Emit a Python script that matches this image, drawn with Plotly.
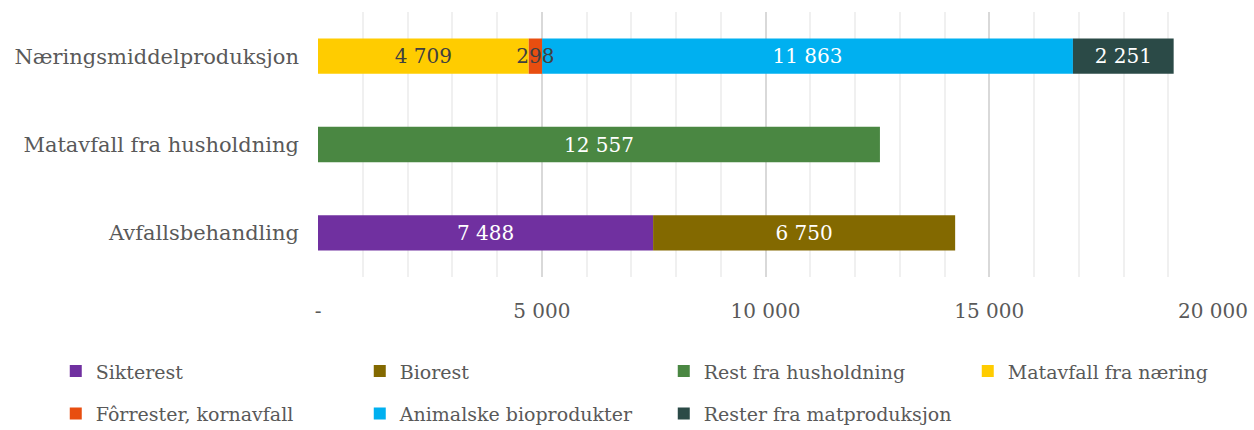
import plotly.graph_objects as go

categories = ["Avfallsbehandling", "Matavfall fra husholdning", "Næringsmiddelproduksjon"]

series_names = ["Sikterest", "Biorest", "Rest fra husholdning", "Matavfall fra næring",
                "Fôrrester, kornavfall", "Animalske bioprodukter", "Rester fra matproduksjon"]
series_values = [
    [7488, None, None],
    [6750, None, None],
    [None, 12557, None],
    [None, None, 4709],
    [None, None, 298],
    [None, None, 11863],
    [None, None, 2251],
]
series_colors = ["#7030A0", "#836900", "#4A8742", "#FFCC00", "#E84E10", "#00B0F0", "#2B4A47"]
label_colors = ["white", "white", "white", "#404040", "#404040", "white", "white"]

tick_vals = [0, 5000, 10000, 15000, 20000]
tick_text = ["-", "5 000", "10 000", "15 000", "20 000"]

FONT = "DejaVu Serif"

# stack bases computed from the data (so the narrow bar's label can be drawn on top)
bases = []
running = [0, 0, 0]
for vals in series_values:
    bases.append(list(running))
    running = [r + (v or 0) for r, v in zip(running, vals)]

# draw order: the narrow "Fôrrester" bar last so its label sits on top
draw_order = [0, 1, 2, 3, 5, 6, 4]

fig = go.Figure()
for i in draw_order:
    name, vals, col, lc = series_names[i], series_values[i], series_colors[i], label_colors[i]
    fig.add_trace(go.Bar(
        y=categories, x=vals, base=bases[i], name=name, orientation="h",
        marker=dict(color=col, line=dict(width=0)),
        texttemplate="%{x:,}", textposition="inside", insidetextanchor="middle",
        textangle=0,
        textfont=dict(family=FONT, size=20, color=lc),
        constraintext="none",
        legend="legend" if i < 4 else "legend2",
        legendrank=i + 1,
    ))

leg_common = dict(orientation="h", x=-0.293, xanchor="left", yanchor="top",
                  entrywidth=259, entrywidthmode="pixels", traceorder="normal",
                  font=dict(family=FONT, size=19, color="#595959"), itemwidth=30)

fig.update_layout(
    width=1254, height=430,
    barmode="overlay", bargap=0.6,
    separators=", ",
    uniformtext=dict(minsize=20, mode="show"),
    plot_bgcolor="white", paper_bgcolor="white",
    margin=dict(l=318, r=41, t=12, b=153, autoexpand=False),
    font=dict(family=FONT, size=18, color="#595959"),
    xaxis=dict(
        range=[0, 20000], tickvals=tick_vals, ticktext=tick_text,
        showgrid=True, gridcolor="#D9D9D9", gridwidth=1.5,
        zeroline=False, showline=False, automargin=False,
        ticklabelstandoff=20,
        tickfont=dict(family=FONT, size=20, color="#595959"),
        minor=dict(dtick=1000, showgrid=True, gridcolor="#F0F0F0", gridwidth=1.5),
    ),
    yaxis=dict(
        range=[-0.5, 2.5], showgrid=False, zeroline=False, showline=False,
        automargin=False, ticklabelstandoff=18,
        tickfont=dict(family=FONT, size=21, color="#595959"),
    ),
    legend=dict(y=-0.284, **leg_common),
    legend2=dict(y=-0.444, **leg_common),
)

fig.write_html("out.html", config={"displayModeBar": False},
               post_script="document.body.style.margin='0';")
